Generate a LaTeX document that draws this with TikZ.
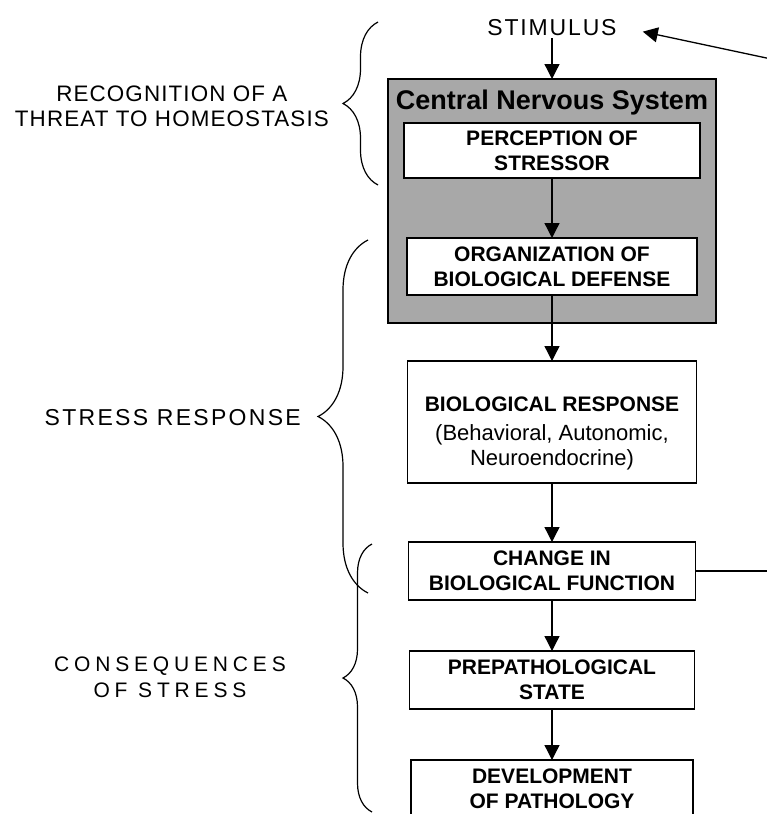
\documentclass[tikz,border=0pt]{standalone}
\usepackage{fontspec}
\setmainfont{Liberation Sans}
\usetikzlibrary{positioning,arrows.meta,decorations.pathreplacing}
\definecolor{cnsgray}{RGB}{168,168,168}
\newcommand{\plaintext}{\mdseries\fontsize{22}{25}\selectfont}
\tikzset{
  stage/.style={draw, fill=white, line width=1.3pt, outer sep=0pt, align=center, minimum height=57pt, font=\fontsize{21}{25}\selectfont\bfseries},
  cnsbox/.style={draw, fill=cnsgray, line width=1.3pt, outer sep=0pt, minimum width=328pt, minimum height=244pt},
  arr/.style={-{Triangle[length=15pt,width=15pt]}, line width=1.3pt},
  phasebrace/.style={decorate, decoration={brace, amplitude=#1}, line width=1.2pt},
  phase/.style={align=center, inner sep=2pt}
}

\begin{document}
\begin{tikzpicture}[x=1pt, y=-1pt]
  \useasboundingbox (0,0) rectangle (767,814);
  \clip (0,0) rectangle (767,814);

  % central nervous system
  \node [cnsbox] (cns) at (552,201) {};
  \node [below=9pt of cns.north, inner sep=2pt, font=\fontsize{27}{30}\selectfont\bfseries] (cnsTitle) {Central Nervous System};
  \node [phase, above=41pt of cns, font=\fontsize{23}{27}\selectfont\addfontfeatures{LetterSpace=8}] (stim) {STIMULUS};

  \node [stage, minimum width=296pt, minimum height=55pt, below=44pt of cns.north] (perc) {PERCEPTION OF\\STRESSOR};
  \node [stage, minimum width=290pt, below=60pt of perc] (org) {ORGANIZATION OF\\BIOLOGICAL DEFENSE};
  \node [stage, minimum width=289pt, minimum height=122pt, below=66pt of org] (bio)
    {\rule{0pt}{37pt}BIOLOGICAL RESPONSE\\[4pt]\plaintext (Behavioral, Autonomic,\\\plaintext Neuroendocrine)};
  \node [stage, minimum width=287pt, minimum height=58pt, below=59pt of bio] (change) {CHANGE IN\\BIOLOGICAL FUNCTION};
  \node [stage, minimum width=285pt, minimum height=58pt, below=51pt of change] (prep) {PREPATHOLOGICAL\\STATE};
  \node [stage, minimum width=282pt, minimum height=58pt, below=51pt of prep] (dev) {DEVELOPMENT\\OF PATHOLOGY};

  \draw [arr] (stim) -- (cns);
  \draw [arr] (perc) -- (org);
  \draw [arr] (org) -- (bio);
  \draw [arr] (bio) -- (change);
  \draw [arr] (change) -- (prep);
  \draw [arr] (prep) -- (dev);

  % feedback, running off the page
  \coordinate (rimR) at (790,0);
  \coordinate (fbIn) at (790,63);
  \draw [line width=1.3pt] (change.east) -- (change.east -| rimR);
  \draw [arr] (fbIn) -- ([xshift=24pt, yshift=-4pt]stim.east);

  % phases
  \draw [phasebrace=35pt] (378,185) -- (378,22);
  \draw [phasebrace=50pt] (368,593) -- (368,240);
  \draw [phasebrace=29pt] (372,812) -- (372,544);

  \node [phase, anchor=east, font=\fontsize{22.4}{25}\selectfont\addfontfeatures{LetterSpace=5}] (recLbl) at (331,106) {RECOGNITION OF A\\THREAT TO HOMEOSTASIS};
  \node [phase, anchor=east, font=\fontsize{23}{27}\selectfont\addfontfeatures{LetterSpace=10}] (stressLbl) at (303,418) {STRESS RESPONSE};
  \node [phase, font=\fontsize{21}{26}\selectfont\addfontfeatures{LetterSpace=23}] (consLbl) at (170,677) {CONSEQUENCES\\OF STRESS};
\end{tikzpicture}
\end{document}
